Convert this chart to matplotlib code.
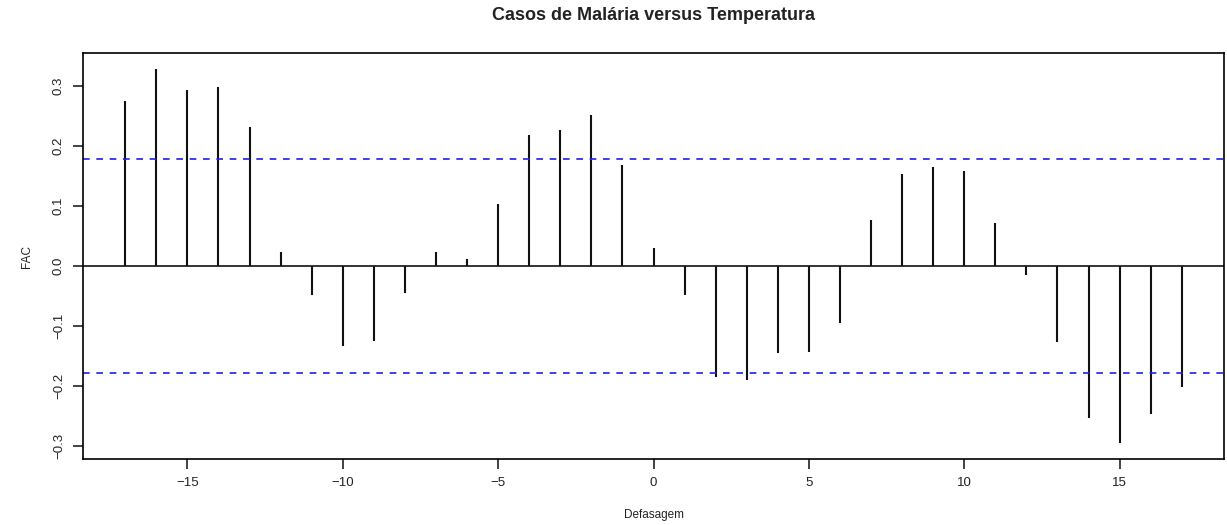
import matplotlib
matplotlib.use('Agg')
import matplotlib.pyplot as plt
import numpy as np

plt.rcParams.update({
    'font.family': ['Liberation Sans', 'DejaVu Sans'],
    'axes.linewidth': 1.2,
})

# cross-correlation values
lags = np.arange(-17, 18)
fac = [0.275, 0.328, 0.294, 0.298, 0.232, 0.023, -0.049, -0.134, -0.125, -0.045,
       0.023, 0.012, 0.103, 0.218, 0.227, 0.252, 0.168, 0.030, -0.049, -0.186,
       -0.191, -0.145, -0.143, -0.095, 0.076, 0.154, 0.165, 0.159, 0.071, -0.015,
       -0.127, -0.253, -0.296, -0.247, -0.202]
conf = 0.178

xticks = [-15, -10, -5, 0, 5, 10, 15]
yticks = [-0.3, -0.2, -0.1, 0.0, 0.1, 0.2, 0.3]

fig = plt.figure(figsize=(12.27, 5.25), dpi=100)
ax = fig.add_axes([0.0676, 0.1257, 0.930, 0.7733])

ax.vlines(lags, 0, fac, color='#111111', linewidth=1.5)
ax.axhline(0, color='#111111', linewidth=1.2)
ax.axhline(conf, color='#2020ee', linestyle=(0, (4, 4)), linewidth=1.2)
ax.axhline(-conf, color='#2020ee', linestyle=(0, (4, 4)), linewidth=1.2)

ax.set_xlim(-18.36, 18.36)
ax.set_ylim(-0.322, 0.355)
ax.set_xticks(xticks)
ax.set_xticklabels(['\u2212' + str(-t) if t < 0 else str(t) for t in xticks])
ax.set_yticks(yticks)
ax.set_yticklabels(['\u2212%.1f' % -t if t < 0 else '%.1f' % t for t in yticks],
                   rotation=90, va='center')
ax.tick_params(direction='out', length=7, width=1.2, labelsize=9.5,
               color='#222222', labelcolor='#222222', pad=6)

ax.set_title('Casos de Malária versus Temperatura', fontsize=13, fontweight='bold',
             color='#222222', pad=24)
ax.set_xlabel('Defasagem', fontsize=8.5, color='#222222', labelpad=14)
ax.set_ylabel('FAC', fontsize=8.5, color='#222222', labelpad=14)

fig.savefig('out.png', dpi=100)
